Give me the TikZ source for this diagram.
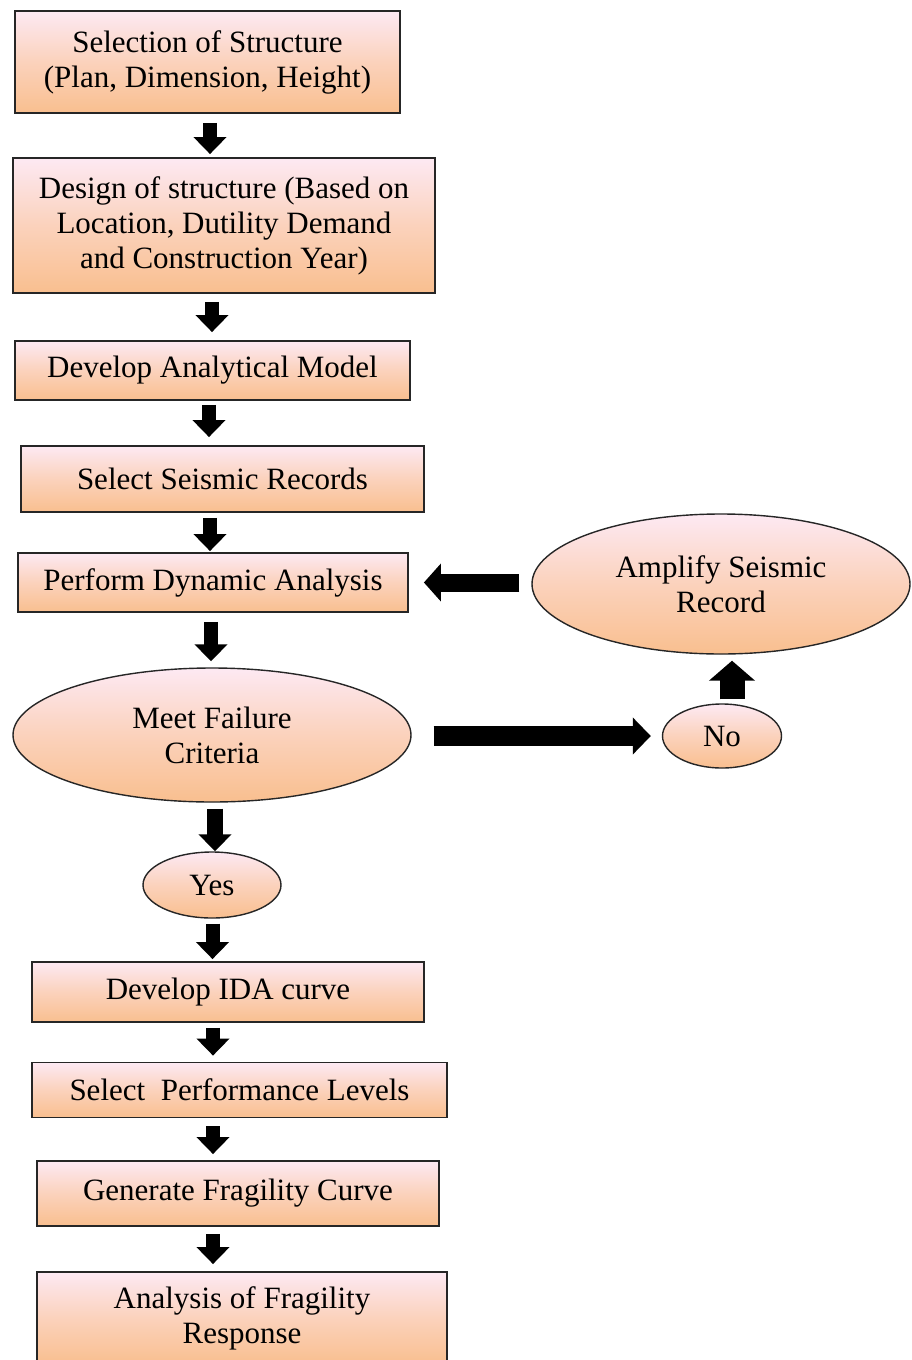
\documentclass[tikz,border=0pt]{standalone}
\usepackage{fontspec}
\setmainfont{Liberation Serif}
\usetikzlibrary{shapes.geometric,arrows.meta}
\definecolor{pinktop}{HTML}{FDE9F3}
\definecolor{orangebot}{HTML}{F9BF8F}
\definecolor{edge}{HTML}{262626}
\begin{document}
\begin{tikzpicture}[x=1pt,y=-1pt,
  font=\fontsize{31}{35}\selectfont,
  grad/.style={top color=pinktop,bottom color=orangebot,middle color=pinktop!45!orangebot},
  procbox/.style={draw=edge,line width=1.8pt,grad,align=center,inner sep=0pt,rectangle},
  oval/.style={draw=edge,line width=1.4pt,grad,align=center,inner sep=0pt,ellipse},
  downarr/.style={line width=14pt,-{Triangle[width=32pt,length=17pt]}},
  leftarr/.style={line width=18pt,-{Triangle[width=37pt,length=17pt]}},
  rightarr/.style={line width=20pt,-{Triangle[width=36pt,length=18pt]}},
  uparr/.style={line width=25pt,-{Triangle[width=45pt,length=20pt]}}]
\useasboundingbox (0,0) rectangle (911,1360);
\clip (0,0) rectangle (911,1360);
\fill[white] (0,0) rectangle (911,1360);

\node[procbox,minimum width=385pt,minimum height=102pt] (b1) at (207.5,62)
  {Selection of Structure\\(Plan, Dimension, Height)};
\node[procbox,minimum width=422pt,minimum height=135pt] (b2) at (224,225.5)
  {Design of structure (Based on\\Location, Dutility Demand\\and Construction Year)};
\node[procbox,minimum width=395pt,minimum height=59pt] (b3) at (212.5,370.5)
  {Develop Analytical Model};
\node[procbox,minimum width=403pt,minimum height=66pt] (b4) at (222.5,479)
  {Select Seismic Records};
\node[procbox,minimum width=390pt,minimum height=59pt] (b5) at (213,582.5)
  {Perform Dynamic Analysis};
\node[oval,minimum width=398pt,minimum height=134pt] (meet) at (212,735)
  {Meet Failure\\Criteria};
\node[oval,minimum width=138pt,minimum height=66pt] (yes) at (212,885)
  {Yes};
\node[procbox,minimum width=392pt,minimum height=60pt] (ida) at (228,992)
  {Develop IDA curve};
\node[procbox,minimum width=415pt,minimum height=55pt] (perf) at (239.5,1090)
  {Select\ \ Performance Levels};
\node[procbox,minimum width=402pt,minimum height=65pt] (frag) at (238,1193.5)
  {Generate Fragility Curve};
\node[procbox,minimum width=410pt,minimum height=92pt] (ana) at (242,1318)
  {Analysis of Fragility\\Response};
\node[oval,minimum width=378pt,minimum height=140pt] (amp) at (721,584)
  {Amplify Seismic\\Record};
\node[oval,minimum width=119pt,minimum height=64pt] (no) at (722,736)
  {No};

\draw[downarr,shorten <=9pt,shorten >=3pt] ([xshift=2.5pt]b1.south) -- ([xshift=2.5pt]b1.south |- b2.north);
\draw[downarr,shorten <=8pt,shorten >=8pt] ([xshift=-12pt]b2.south) -- ([xshift=-12pt]b2.south |- b3.north);
\draw[downarr,shorten <=4pt,shorten >=8pt] ([xshift=-3.5pt]b3.south) -- ([xshift=-3.5pt]b3.south |- b4.north);
\draw[downarr,shorten <=5pt,shorten >=1pt] ([xshift=-12.5pt]b4.south) -- ([xshift=-12.5pt]b4.south |- b5.north);
\draw[downarr,shorten <=9pt,shorten >=6pt] ([xshift=-2pt]b5.south) -- ([xshift=-2pt]b5.south |- meet.north);
\draw[downarr,line width=16pt,shorten <=6pt,shorten >=0pt] ([xshift=3pt]meet.south) -- ([xshift=3pt]meet.south |- yes.north);
\draw[downarr,shorten <=5pt,shorten >=2pt] ([xshift=0.5pt]yes.south) -- ([xshift=0.5pt]yes.south |- ida.north);
\draw[downarr,shorten <=5pt,shorten >=6pt] ([xshift=-15pt]ida.south) -- ([xshift=-15pt]ida.south |- perf.north);
\draw[downarr,shorten <=8pt,shorten >=6pt] ([xshift=-26.5pt]perf.south) -- ([xshift=-26.5pt]perf.south |- frag.north);
\draw[downarr,shorten <=7pt,shorten >=7pt] ([xshift=-25pt]frag.south) -- ([xshift=-25pt]frag.south |- ana.north);

\draw[leftarr,shorten <=12pt,shorten >=15pt] (amp.west |- b5.east) -- (b5.east);
\draw[rightarr,shorten <=22pt,shorten >=11pt] (meet.east |- no.west) -- (no.west);
\draw[uparr,shorten <=4pt,shorten >=6pt] ([xshift=10pt]no.north) -- ([xshift=10pt]no.north |- amp.south);
\end{tikzpicture}
\end{document}
